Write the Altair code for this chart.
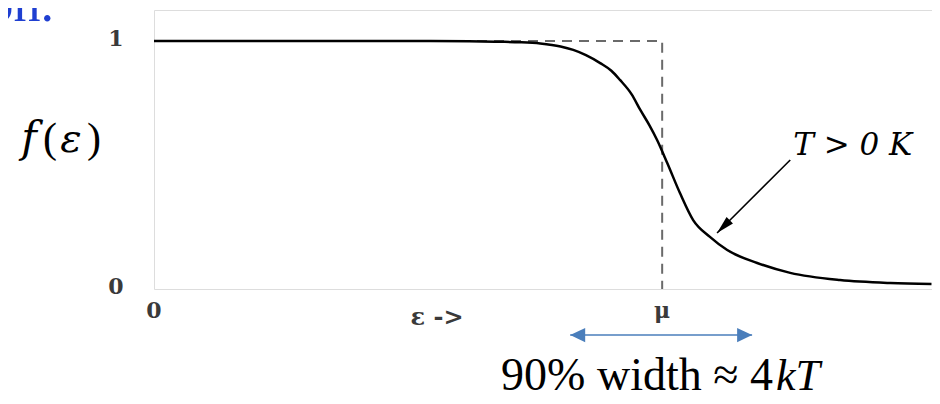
import altair as alt
import pandas as pd

# Fermi-Dirac occupation (epsilon in units of mu)
eps = [0, 0.30, 0.50, 0.62, 0.68, 0.72, 0.76, 0.80, 0.825, 0.85, 0.878, 0.90,
       0.917, 0.94, 0.957, 0.975, 0.990, 1.010, 1.035, 1.061, 1.094, 1.128,
       1.187, 1.252, 1.35, 1.449, 1.53]
occ = [1.0, 1.0, 1.0, 0.999, 0.997, 0.995, 0.990, 0.978, 0.964, 0.943, 0.911,
       0.880, 0.843, 0.785, 0.722, 0.660, 0.601, 0.508, 0.387, 0.278, 0.210,
       0.157, 0.105, 0.065, 0.036, 0.024, 0.020]

# T = 0 step function
step_eps = [0, 1, 1]
step_occ = [1, 1, 0]

# tick labels
x_tick_text = ["0", "μ"]
x_tick_pos = [0.0, 1.0]
x_axis_text = ["ε ->"]
x_axis_pos = [0.557]
y_tick_text = ["1", "0"]
y_tick_pos = [1.0, 0.0]

# annotations (data units)
t_arrow = {"x": [1.252], "y": [0.520], "x2": [1.108], "y2": [0.226]}
t_label = {"x": [1.375], "y": [0.575], "t": ["T  >  0  K"]}
width_arrow = {"x": [0.819], "x2": [1.177], "y": [-0.1855]}
width_text_pos = 1.220
width_text_y = -0.407

X_DOMAIN = [0, 1.531]
Y_DOMAIN = [0, 1.125]
xs = alt.Scale(domain=X_DOMAIN, nice=False, zero=False)
ys = alt.Scale(domain=Y_DOMAIN, nice=False, zero=False)

GRAY = "#a8a8a8"
BLUE = "#4a7ebb"
axis_style = dict(domain=True, domainColor=GRAY, domainWidth=2, ticks=False,
                  labels=False, grid=False, title=None)

curve_df = pd.DataFrame({"eps": eps, "occ": occ})
curve = alt.Chart(curve_df).mark_line(color="black", strokeWidth=2.5,
                                      interpolate="monotone").encode(
    x=alt.X("eps:Q", scale=xs, axis=alt.Axis(**axis_style)),
    y=alt.Y("occ:Q", scale=ys, axis=alt.Axis(**axis_style)),
)

step_df = pd.DataFrame({"eps": step_eps, "occ": step_occ, "i": range(len(step_eps))})
step = alt.Chart(step_df).mark_line(color="#6a6a6a", strokeWidth=2,
                                    strokeDash=[10, 7]).encode(
    x=alt.X("eps:Q", scale=xs, axis=None),
    y=alt.Y("occ:Q", scale=ys, axis=None),
    order="i:Q",
)

tick_font = dict(font="DejaVu Serif", fontWeight="bold", color="#3a3a3a")

xt = alt.Chart(pd.DataFrame({"p": x_tick_pos, "t": x_tick_text})).mark_text(
    align="center", baseline="middle", fontSize=22, **tick_font).encode(
    x=alt.X("p:Q", scale=xs, axis=None), y=alt.value(301), text="t:N")
xa = alt.Chart(pd.DataFrame({"p": x_axis_pos, "t": x_axis_text})).mark_text(
    align="center", baseline="middle", fontSize=24, **tick_font).encode(
    x=alt.X("p:Q", scale=xs, axis=None), y=alt.value(308), text="t:N")
yt = alt.Chart(pd.DataFrame({"p": y_tick_pos, "t": y_tick_text})).mark_text(
    align="center", baseline="middle", dy=-2, fontSize=22, **tick_font).encode(
    y=alt.Y("p:Q", scale=ys, axis=None), x=alt.value(-38), text="t:N")

# T > 0 K arrow
ta_df = pd.DataFrame(t_arrow)
t_rule = alt.Chart(ta_df).mark_rule(color="black", strokeWidth=1.6).encode(
    x=alt.X("x:Q", scale=xs, axis=None), y=alt.Y("y:Q", scale=ys, axis=None),
    x2="x2:Q", y2="y2:Q")
head_path = "M0,0L-0.5,2L0.5,2Z"
t_head = alt.Chart(ta_df).mark_point(shape=head_path, filled=True, size=324,
                                     angle=225, color="black", opacity=1).encode(
    x=alt.X("x2:Q", scale=xs, axis=None), y=alt.Y("y2:Q", scale=ys, axis=None))
t_text = alt.Chart(pd.DataFrame(t_label)).mark_text(
    font="DejaVu Serif", fontStyle="italic", fontSize=31, align="center",
    baseline="middle", color="black").encode(
    x=alt.X("x:Q", scale=xs, axis=None), y=alt.Y("y:Q", scale=ys, axis=None),
    text="t:N")

# 90% width double arrow
wa_df = pd.DataFrame(width_arrow)
w_rule = alt.Chart(wa_df).mark_rule(color=BLUE, strokeWidth=1.5).encode(
    x=alt.X("x:Q", scale=xs, axis=None), x2="x2:Q",
    y=alt.Y("y:Q", scale=ys, axis=None))
w_path = "M0,0L-0.95,2L0.95,2Z"
w_left = alt.Chart(wa_df).mark_point(shape=w_path, filled=True, size=225, angle=270,
                                     color=BLUE, opacity=1).encode(
    x=alt.X("x:Q", scale=xs, axis=None), y=alt.Y("y:Q", scale=ys, axis=None))
w_right = alt.Chart(wa_df).mark_point(shape=w_path, filled=True, size=225, angle=90,
                                      color=BLUE, opacity=1).encode(
    x=alt.X("x2:Q", scale=xs, axis=None), y=alt.Y("y:Q", scale=ys, axis=None))

wt_df = pd.DataFrame({"x": [width_text_pos], "y": [width_text_y]})
w_text1 = alt.Chart(wt_df).mark_text(
    text="90% width ≈ 4", font="Liberation Serif", fontSize=46, align="right",
    baseline="alphabetic", color="black", dx=-1).encode(
    x=alt.X("x:Q", scale=xs, axis=None), y=alt.Y("y:Q", scale=ys, axis=None))
w_text2 = alt.Chart(wt_df).mark_text(
    text="kT", font="Liberation Serif", fontStyle="italic", fontSize=44,
    align="left", baseline="alphabetic", color="black", dx=2).encode(
    x=alt.X("x:Q", scale=xs, axis=None), y=alt.Y("y:Q", scale=ys, axis=None))

# y label f(ε) and slide fragment
lab_df = pd.DataFrame({"a": [0]})
def lab(text, px, py, italic=False, size=38, color="black", align="center", font="Liberation Serif"):
    kw = dict(text=text, font=font, fontSize=size, align=align,
              baseline="alphabetic", color=color)
    if italic:
        kw["fontStyle"] = "italic"
    return alt.Chart(lab_df).mark_text(**kw).encode(x=alt.value(px), y=alt.value(py))

f_parts = [
    lab("f", -125, 142, italic=True, size=42, font="DejaVu Serif"),
    lab("(", -104, 142, size=42),
    lab("ε", -83, 142, italic=True, size=40, font="DejaVu Serif"),
    lab(")", -60, 142, size=42),
]
on_text = lab("on.", -100, 11, size=54, color="#1f3fd1", align="right")

chart = alt.layer(
    step, curve, xt, xa, yt, t_rule, t_head, t_text, w_rule, w_left, w_right,
    w_text1, w_text2, *f_parts, on_text
).properties(
    width=778, height=279,
    padding={"left": 146, "top": 2, "right": 0, "bottom": 107},
    autosize=alt.AutoSizeParams(type="none"),
).configure_view(stroke=None).configure(background="white")

chart.save("out.html", embed_options={"renderer": "svg", "actions": False})
